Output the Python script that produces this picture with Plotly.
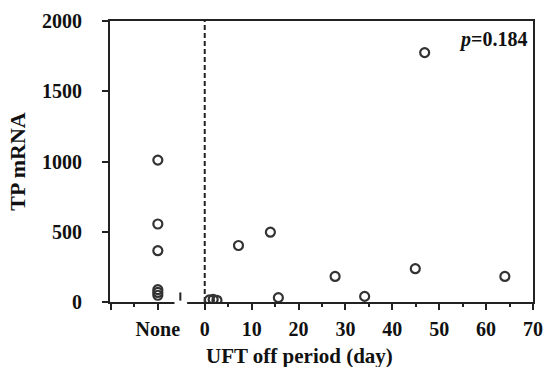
import plotly.graph_objects as go

# ---- data ----
none_x = -10  # position of the "None" category on the x scale
none_vals = [1010, 555, 365, 88, 68, 48]
off_days = [1.0, 1.8, 2.6, 7.2, 14.0, 15.7, 27.8, 34.1, 44.9, 46.9, 64.0]
off_vals = [15, 18, 12, 402, 497, 31, 182, 40, 237, 1775, 182]

x_tickvals = [-20, -10, 0, 10, 20, 30, 40, 50, 60, 70]
x_ticktext = ["", "None", "0", "10", "20", "30", "40", "50", "60", "70"]
x_minor = [-15, 5, 15, 25, 35, 45, 55, 65]
y_tickvals = [0, 500, 1000, 1500, 2000]
p_text = "<i>p</i>=0.184"

FONT = "Liberation Serif, Times New Roman, serif"
INK = "#222222"

marker = dict(symbol="circle-open", size=9, color="#333333",
              line=dict(width=2.2, color="#333333"))

fig = go.Figure()
fig.add_trace(go.Scatter(x=[none_x] * len(none_vals), y=none_vals,
                         mode="markers", marker=marker, showlegend=False))
fig.add_trace(go.Scatter(x=off_days, y=off_vals, mode="markers",
                         marker=marker, showlegend=False))

# dashed reference line at day 0
fig.add_shape(type="line", xref="x", yref="paper", x0=0, x1=0, y0=0, y1=1,
              line=dict(color=INK, width=2, dash="5px,3px"), layer="below")
# axis break: white gap + small mark
fig.add_shape(type="rect", xref="x", yref="paper", x0=-6.45, x1=-3.75,
              y0=-0.02, y1=0.012, fillcolor="white", line=dict(width=0),
              layer="above")
fig.add_shape(type="line", xref="x", yref="paper", x0=-5.2, x1=-5.2,
              y0=0.005, y1=0.034, line=dict(color=INK, width=2), layer="above")

fig.add_annotation(text=p_text, xref="paper", yref="paper", x=0.99, y=0.935,
                   xanchor="right", yanchor="middle", showarrow=False,
                   font=dict(family=FONT, size=20, color="#111", weight="bold"))
fig.add_annotation(text="UFT off period (day)", xref="paper", yref="paper",
                   x=0.448, y=-0.192, xanchor="center", yanchor="middle",
                   showarrow=False,
                   font=dict(family=FONT, size=21, color="#111", weight="bold"))

fig.update_layout(
    width=553, height=367,
    margin=dict(l=110, r=10, t=20, b=65),
    paper_bgcolor="white", plot_bgcolor="white",
    font=dict(family=FONT, size=20, color="#111", weight="bold"),
    xaxis=dict(range=[-20.2, 70], tickmode="array", tickvals=x_tickvals,
               ticktext=x_ticktext, ticks="outside", ticklen=6, tickwidth=2,
               tickcolor=INK, showline=True, linecolor=INK, linewidth=2,
               mirror=True, showgrid=False, zeroline=False,
               ticklabelstandoff=2,
               minor=dict(tickmode="array", tickvals=x_minor, ticks="outside",
                          ticklen=3, tickwidth=2, tickcolor=INK,
                          showgrid=False),
               tickfont=dict(family=FONT, size=20, color="#111", weight="bold")),
    yaxis=dict(range=[0, 2000], tickmode="array", tickvals=y_tickvals,
               ticks="outside", ticklen=6, tickwidth=2, tickcolor=INK,
               showline=True, linecolor=INK, linewidth=2, mirror=True,
               showgrid=False, zeroline=False, ticklabelstandoff=16,
               tickfont=dict(family=FONT, size=20, color="#111", weight="bold"),
               title=dict(text="TP mRNA", standoff=10,
                          font=dict(family=FONT, size=22, color="#111",
                                    weight="bold"))),
)

fig.write_html("out.html")
